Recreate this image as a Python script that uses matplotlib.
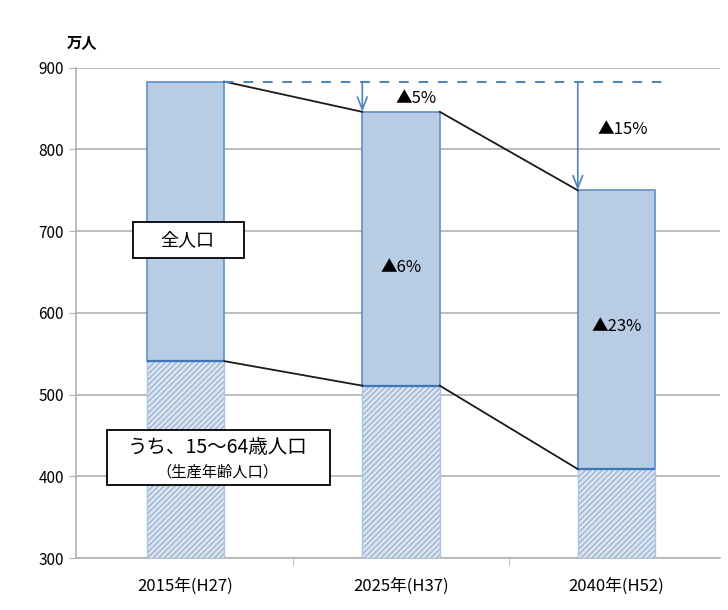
import matplotlib
matplotlib.use("Agg")
import matplotlib.pyplot as plt
from matplotlib.patches import Rectangle
import numpy as np

plt.rcParams['font.family'] = ['Noto Sans CJK JP', 'DejaVu Sans']

# population (10k people)
years = ['2015年(H27)', '2025年(H37)', '2040年(H52)']
total = [883, 846, 750]
working = [541, 511, 409]
total_drop = ['▲5%', '▲15%']
working_drop = ['▲6%', '▲23%']

x = np.arange(len(years))
w = 0.36
blue = '#5b8fd0'
arrow_blue = '#4f81bd'

fig = plt.figure(figsize=(7.28, 6.10), dpi=100)
ax = fig.add_axes([0.104, 0.085, 0.885, 0.804])

# upper part of each bar: whole population
ax.bar(x, np.array(total) - np.array(working), w, bottom=working,
       color='#b8cce4', edgecolor=blue, linewidth=1.2, zorder=3)
# lower part: working-age population, hatched
ax.bar(x, np.array(working) - 300, w, bottom=300, color='#dce6f2',
       edgecolor='#9db3cf', hatch='//////', linewidth=0, zorder=3)
ax.bar(x, np.array(working) - 300, w, bottom=300, fill=False,
       edgecolor='#a9c4e4', linewidth=1.0, zorder=3)
ax.hlines(working, x - w / 2, x + w / 2, color='#3f76b8', lw=1.6, zorder=4)

# connecting lines between bars
for vals in (total, working):
    for i in range(len(x) - 1):
        ax.plot([x[i] + w / 2, x[i + 1] - w / 2], [vals[i], vals[i + 1]],
                color='#1a1a1a', lw=1.3, zorder=4)

# reference level of 2015 and drop arrows
ax.hlines(total[0], x[0] + w / 2, 2.24, color=arrow_blue, lw=1.4,
          linestyles=(0, (5, 5)), zorder=4)
for i in (1, 2):
    ax.annotate('', xy=(x[i] - w / 2, total[i]), xytext=(x[i] - w / 2, total[0]),
                arrowprops=dict(arrowstyle='->,head_length=0.9,head_width=0.35',
                                color=arrow_blue, lw=1.2, shrinkA=0, shrinkB=0),
                zorder=5)

ax.text(1.07, 862, total_drop[0], ha='center', va='center', fontsize=12, zorder=6)
ax.text(2.03, 824, total_drop[1], ha='center', va='center', fontsize=12, zorder=6)
ax.text(1.0, 656, working_drop[0], ha='center', va='center', fontsize=12, zorder=6)
ax.text(2.0, 583, working_drop[1], ha='center', va='center', fontsize=12, zorder=6)

# series labels in framed boxes
ax.add_patch(Rectangle((0.0885, 0.612), 0.1725, 0.074, transform=ax.transAxes,
                       fc='white', ec='black', lw=1.3, zorder=6))
ax.text(0.174, 0.649, '全人口', transform=ax.transAxes, ha='center',
        va='center', fontsize=13, zorder=7)
ax.add_patch(Rectangle((0.048, 0.149), 0.346, 0.112, transform=ax.transAxes,
                       fc='white', ec='black', lw=1.3, zorder=6))
ax.text(0.2205, 0.2265, 'うち、15～64歳人口', transform=ax.transAxes,
        ha='center', va='center', fontsize=14, zorder=7)
ax.text(0.2205, 0.1755, '（生産年齢人口）', transform=ax.transAxes,
        ha='center', va='center', fontsize=11, zorder=7)

ax.set_xlim(-0.51, 2.48)
ax.set_ylim(300, 900)
ax.set_yticks(range(300, 901, 100))
ax.yaxis.grid(True, color='#b0b0b0', lw=1.2, zorder=0)
ax.set_xticks(x)
ax.set_xticklabels(years, fontsize=12)
ax.set_xticks([0.5, 1.5], minor=True)
ax.tick_params(axis='x', which='major', length=0, pad=14)
ax.tick_params(axis='x', which='minor', length=5, color='#b0b0b0')
ax.tick_params(axis='y', length=5, color='#b0b0b0', labelsize=11)
for s in ('top', 'right'):
    ax.spines[s].set_visible(False)
for s in ('left', 'bottom'):
    ax.spines[s].set_color('#b0b0b0')
    ax.spines[s].set_linewidth(1.2)

ax.text(0.01, 1.053, '万人', transform=ax.transAxes, ha='center', va='center',
        fontsize=11, fontweight='bold')

fig.savefig('out.png', dpi=100)
